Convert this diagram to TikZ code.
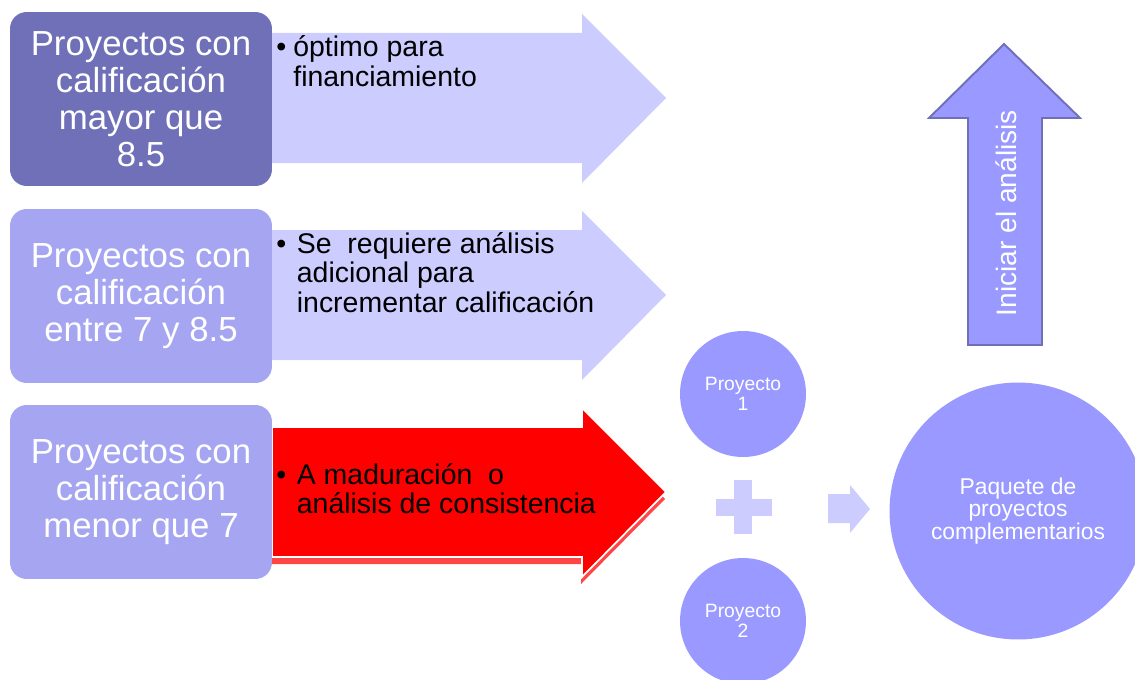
\documentclass[tikz,border=0pt]{standalone}
\usepackage{fontspec}
\setmainfont{Liberation Sans}

\definecolor{moradoosc}{HTML}{7070B9}
\definecolor{moradocla}{HTML}{A5A5F2}
\definecolor{lila}{HTML}{9999FF}
\definecolor{lilapal}{HTML}{CCCCFF}
\definecolor{rojo}{HTML}{FF0000}

\begin{document}
\begin{tikzpicture}[x=0.02cm,y=-0.02cm]
                \tikzset{caja/.style={rounded corners=9.5pt, inner sep=0pt,
                minimum width=5.24cm, minimum height=3.48cm, text=white,
                align=center, font=\fontsize{19.8}{21}\selectfont},
                 flecha/.style={fill=lilapal},
                 viñeta/.style={anchor=base west, inner sep=0pt,
                 font=\fontsize{16.2}{16.8}\selectfont},
                 circulo/.style={circle, fill=lila, text=white, align=center, inner sep=0pt}}

                \useasboundingbox (0,0) rectangle (1135,679);

                % flechas grandes
                \fill[flecha] (272,33) -- (582,33) -- (582,14) -- (666,98) -- (582,183) -- (582,163) -- (272,163) -- cycle;
                \begin{scope}[shift={(0,197)}]
                    \fill[flecha] (272,33) -- (582,33) -- (582,14) -- (666,98) -- (582,183) -- (582,163) -- (272,163) -- cycle;
                \end{scope}
                \begin{scope}[shift={(0,394)}]
                    \fill[rojo!85, opacity=.85] (271,40) -- (581,40) -- (581,21) -- (665,105) -- (581,190) -- (581,170) -- (271,170) -- cycle;
                    \draw[white, line width=1pt, fill=rojo] (272,33) -- (582,33) -- (582,14) -- (666,98) -- (582,183) -- (582,163) -- (272,163) -- cycle;
                \end{scope}

                % cajas
                \node[caja, fill=moradoosc] (alta) at (141,99) {Proyectos con\\calificación\\mayor que\\8.5};
                \node[caja, fill=moradocla] (media) at (141,296) {Proyectos con\\calificación\\entre 7 y 8.5};
                \node[caja, fill=moradocla] (baja) at (141,492) {Proyectos con\\calificación\\menor que 7};

                \node[viñeta] (t1) at (276,57) {\begin{tabular}[t]{@{}l@{\hspace{4pt}}l@{}}\textbullet & óptimo para\\ & financiamiento\end{tabular}};
                \node[viñeta] (t2) at (276,253) {\begin{tabular}[t]{@{}l@{\hspace{6pt}}l@{}}\textbullet & Se~ requiere análisis\\ & adicional para\\ & incrementar calificación\end{tabular}};
                \node[viñeta] (t3) at (276,484) {\begin{tabular}[t]{@{}l@{\hspace{6pt}}l@{}}\textbullet & A maduración\ \ o\\ & análisis de consistencia\end{tabular}};

                % proyectos
                \node[circulo, minimum size=2.52cm, font=\fontsize{11}{11.5}\selectfont] (p1) at (743,394) {Proyecto\\1};
                \node[circulo, minimum size=2.52cm, font=\fontsize{11}{11.5}\selectfont] (p2) at (743,621) {Proyecto\\2};
                \node[circulo, minimum size=5.14cm, font=\fontsize{13}{13}\selectfont] (paq) at (1018,511) {Paquete de\\proyectos\\complementarios};

                \fill[lilapal] (716,499) rectangle (772,516);
                \fill[lilapal] (734,480) rectangle (752,534);
                \fill[lilapal] (828,494) -- (850,494) -- (850,485) -- (870,509) -- (850,533) -- (850,523) -- (828,523) -- cycle;

                % flecha hacia arriba
                \draw[fill=lila, draw=moradoosc, line width=1.1pt] (968,345) -- (968,118) -- (929,118) -- (1004,44) -- (1080,118) -- (1042,118) -- (1042,345) -- cycle;
                \node[rotate=90, text=white, font=\fontsize{16}{16}\selectfont] (ini) at (1006,213) {Iniciar el análisis};
\end{tikzpicture}
\end{document}
